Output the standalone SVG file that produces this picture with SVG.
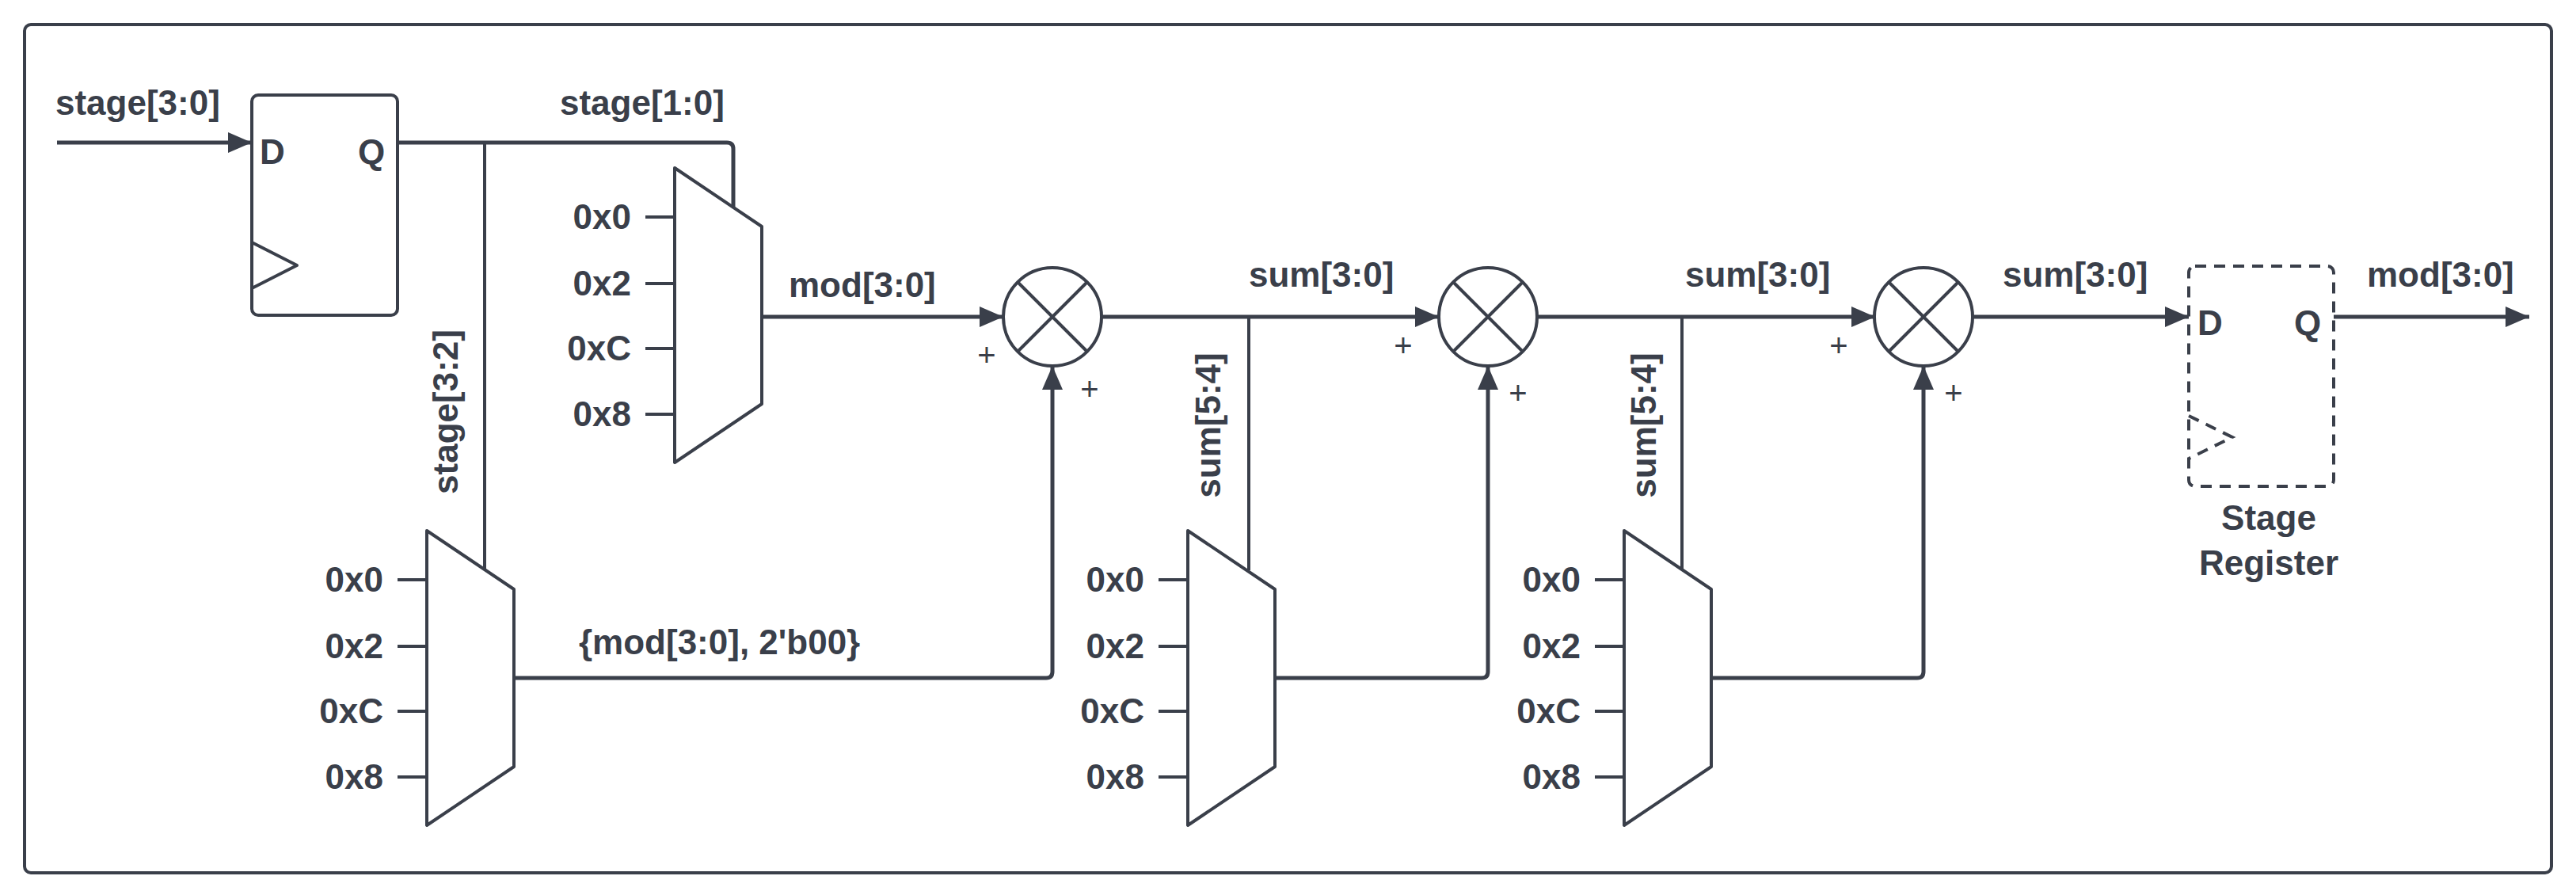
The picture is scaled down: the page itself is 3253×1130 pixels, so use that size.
<svg xmlns="http://www.w3.org/2000/svg" width="3253" height="1130" viewBox="0 0 3253 1130">
<style>
.t{font-family:"Liberation Sans",Arial,sans-serif;font-weight:bold;font-size:44px;fill:#3a3f4a}
.p{font-family:"Liberation Sans",Arial,sans-serif;font-size:40px;fill:#3a3f4a}
.s{fill:#fff;stroke:#3a3f4a;stroke-width:4;stroke-linejoin:round}
.w{fill:none;stroke:#3a3f4a;stroke-width:4;stroke-linejoin:round}
.d{fill:none;stroke:#3a3f4a;stroke-width:4;stroke-dasharray:14 10}
</style>
<defs>
<marker id="a" markerWidth="10" markerHeight="10" refX="9" refY="5" orient="auto" markerUnits="userSpaceOnUse" viewBox="0 0 10 10" style="overflow:visible">
<path d="M0,0 L10,5 L0,10 z" fill="#3a3f4a" transform="scale(1)"/>
</marker>
<marker id="b" markerWidth="30" markerHeight="26" refX="30" refY="13" orient="auto" markerUnits="userSpaceOnUse">
<path d="M0,0 L30,13 L0,26 z" fill="#3a3f4a"/>
</marker>
<g id="mux">
<path class="s" d="M0,0 L110,74 L110,298 L0,372 Z"/>
<path class="w" d="M-37,62 H0 M-37,146 H0 M-37,228 H0 M-37,311 H0"/>
<text class="t" x="-55" y="77" text-anchor="end">0x0</text>
<text class="t" x="-55" y="161" text-anchor="end">0x2</text>
<text class="t" x="-55" y="243" text-anchor="end">0xC</text>
<text class="t" x="-55" y="326" text-anchor="end">0x8</text>
</g>
<g id="add">
<circle class="s" cx="0" cy="0" r="62"/>
<path class="w" d="M-44,-44 L44,44 M44,-44 L-44,44"/>
</g>
</defs>
<rect x="31" y="31" width="3191" height="1071" rx="8" class="w" stroke-width="5"/>

<g id="connectors" fill="none" stroke="#3a3f4a" stroke-width="5">
<path d="M72,180 H318" marker-end="url(#b)"/>
<path d="M502,180 H918 Q926,180 926,188 V264"/>
<path d="M612,180 V720" stroke-width="4"/>
<path d="M962,400 H1267" marker-end="url(#b)"/>
<path d="M649,856 H1321 Q1329,856 1329,848 V462" marker-end="url(#b)"/>
<path d="M1391,400 H1817" marker-end="url(#b)"/>
<path d="M1577,400 V720" stroke-width="4"/>
<path d="M1611,856 H1871 Q1879,856 1879,848 V462" marker-end="url(#b)"/>
<path d="M1941,400 H2368" marker-end="url(#b)"/>
<path d="M2124,400 V720" stroke-width="4"/>
<path d="M2161,856 H2421 Q2429,856 2429,848 V462" marker-end="url(#b)"/>
<path d="M2491,400 H2764" marker-end="url(#b)"/>
<path d="M2947,400 H3194" marker-end="url(#b)"/>
</g>

<g id="ff1">
<rect class="s" x="318" y="120" width="184" height="278" rx="8"/>
<path class="w" d="M318,306 L375,335 L318,364"/>
<text class="t" x="328" y="207">D</text>
<text class="t" x="452" y="207">Q</text>
</g>
<g id="mux1"><use href="#mux" x="852" y="212"/></g>
<g id="mux2"><use href="#mux" x="539" y="670"/></g>
<g id="mux3"><use href="#mux" x="1500" y="670"/></g>
<g id="mux4"><use href="#mux" x="2051" y="670"/></g>
<g id="add1"><use href="#add" x="1329" y="400"/><text class="p" x="1246" y="462" text-anchor="middle">+</text><text class="p" x="1376" y="505" text-anchor="middle">+</text></g>
<g id="add2"><use href="#add" x="1879" y="400"/><text class="p" x="1772" y="450" text-anchor="middle">+</text><text class="p" x="1917" y="510" text-anchor="middle">+</text></g>
<g id="add3"><use href="#add" x="2429" y="400"/><text class="p" x="2322" y="450" text-anchor="middle">+</text><text class="p" x="2467" y="510" text-anchor="middle">+</text></g>
<g id="reg">
<rect class="d" x="2764" y="336" width="183" height="278" rx="8"/>
<path class="d" d="M2764,525 L2819,552 L2764,579" stroke-dasharray="12 10"/>
<text class="t" x="2775" y="423">D</text>
<text class="t" x="2897" y="423">Q</text>
<text class="t" x="2865" y="669" text-anchor="middle">Stage</text>
<text class="t" x="2865" y="726" text-anchor="middle">Register</text>
</g>

<g id="labels">
<text class="t" x="70" y="145">stage[3:0]</text>
<text class="t" x="707" y="145">stage[1:0]</text>
<text class="t" x="996" y="375">mod[3:0]</text>
<text class="t" x="1577" y="362">sum[3:0]</text>
<text class="t" x="2128" y="362">sum[3:0]</text>
<text class="t" x="2529" y="362">sum[3:0]</text>
<text class="t" x="2989" y="362">mod[3:0]</text>
<text class="t" x="731" y="826">{mod[3:0], 2'b00}</text>
<text class="t" transform="translate(578,520) rotate(-90)" text-anchor="middle">stage[3:2]</text>
<text class="t" transform="translate(1541,537) rotate(-90)" text-anchor="middle">sum[5:4]</text>
<text class="t" transform="translate(2091,537) rotate(-90)" text-anchor="middle">sum[5:4]</text>
</g>
</svg>
